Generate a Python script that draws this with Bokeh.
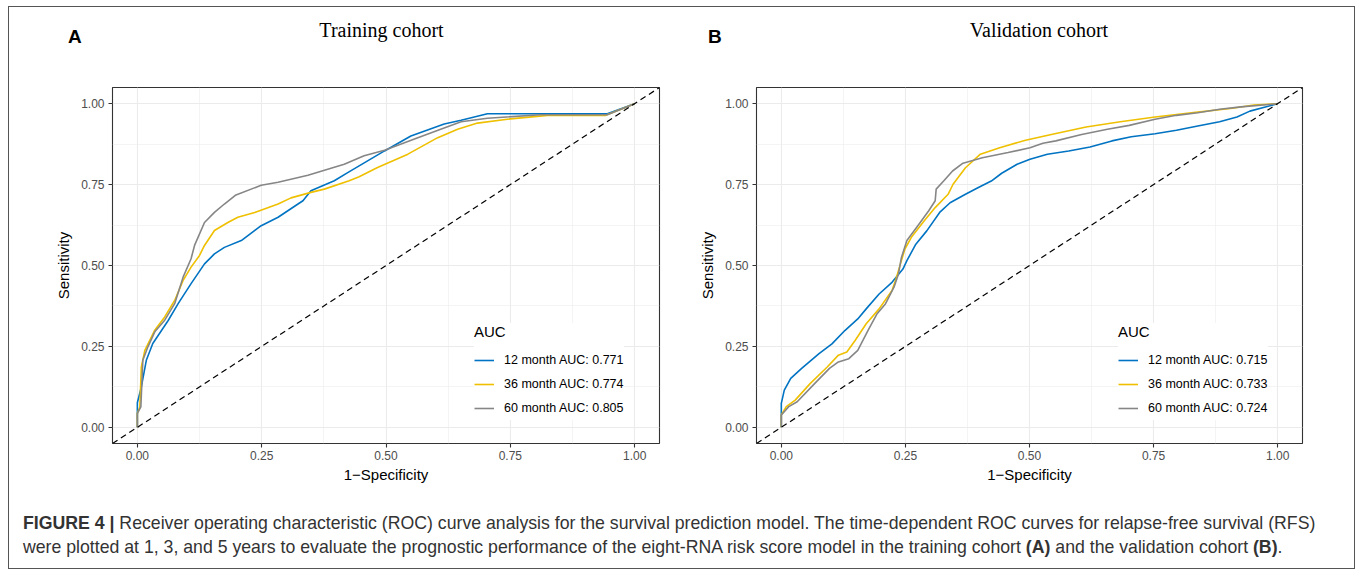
from bokeh.plotting import figure
from bokeh.models import Range1d, FixedTicker, Slope, Div
from bokeh.layouts import column, row
from bokeh.embed import file_html
from bokeh.resources import INLINE

# ---------------- data ----------------
tick_values = [0.0, 0.25, 0.5, 0.75, 1.0]
tick_labels = ["0.00", "0.25", "0.50", "0.75", "1.00"]
minor_values = [0.125, 0.375, 0.625, 0.875]

series_names = ["12 month", "36 month", "60 month"]
auc_train = [0.771, 0.774, 0.805]
auc_valid = [0.715, 0.733, 0.724]
colors = ["#0073C2", "#EFC000", "#868686"]

panel_titles = ["Training cohort", "Validation cohort"]
panel_letters = ["A", "B"]
x_label = "1\u2212Specificity"
y_label = "Sensitivity"
legend_title = "AUC"

# Training cohort
train_12_fpr = [0, 0, 0.008, 0.018, 0.031, 0.062, 0.082, 0.108, 0.135, 0.155, 0.175, 0.209, 0.249, 0.283,
                0.323, 0.333, 0.349, 0.396, 0.423, 0.497, 0.550, 0.617, 0.651, 0.704, 0.945, 1.0]
train_12_tpr = [0, 0.076, 0.125, 0.207, 0.259, 0.33, 0.382, 0.444, 0.505, 0.536, 0.556, 0.577, 0.623, 0.649,
                0.69, 0.70, 0.731, 0.762, 0.787, 0.854, 0.9, 0.937, 0.949, 0.969, 0.969, 1.0]
train_36_fpr = [0, 0, 0.005, 0.008, 0.015, 0.035, 0.055, 0.075, 0.092, 0.108, 0.125, 0.135, 0.155, 0.182,
                0.202, 0.236, 0.283, 0.309, 0.349, 0.376, 0.426, 0.446, 0.483, 0.544, 0.604, 0.644, 0.684,
                0.744, 0.825, 0.942, 1.0]
train_36_tpr = [0, 0.043, 0.063, 0.187, 0.238, 0.30, 0.341, 0.392, 0.454, 0.495, 0.531, 0.562, 0.608, 0.633,
                0.649, 0.664, 0.69, 0.709, 0.726, 0.736, 0.762, 0.774, 0.803, 0.844, 0.895, 0.921, 0.94,
                0.952, 0.964, 0.964, 1.0]
train_60_fpr = [0, 0, 0.007, 0.011, 0.021, 0.035, 0.055, 0.075, 0.092, 0.108, 0.115, 0.135, 0.155, 0.175,
                0.197, 0.249, 0.283, 0.343, 0.416, 0.456, 0.497, 0.564, 0.610, 0.651, 0.704, 0.811, 0.945, 1.0]
train_60_tpr = [0, 0.043, 0.063, 0.207, 0.248, 0.295, 0.331, 0.382, 0.464, 0.521, 0.562, 0.633, 0.664, 0.69,
                0.717, 0.748, 0.757, 0.779, 0.813, 0.839, 0.856, 0.895, 0.921, 0.944, 0.955, 0.966, 0.966, 1.0]

# Validation cohort
valid_12_fpr = [0, 0, 0.006, 0.019, 0.041, 0.076, 0.102, 0.128, 0.154, 0.171, 0.197, 0.223, 0.245, 0.253,
                0.271, 0.293, 0.319, 0.340, 0.371, 0.397, 0.423, 0.444, 0.475, 0.501, 0.536, 0.579, 0.622,
                0.666, 0.705, 0.753, 0.796, 0.839, 0.883, 0.918, 0.944, 1.0]
valid_12_tpr = [0, 0.074, 0.115, 0.151, 0.182, 0.228, 0.258, 0.299, 0.335, 0.366, 0.412, 0.448, 0.489, 0.515,
                0.566, 0.607, 0.664, 0.694, 0.72, 0.741, 0.761, 0.785, 0.813, 0.828, 0.844, 0.854, 0.866,
                0.885, 0.898, 0.907, 0.918, 0.931, 0.944, 0.959, 0.977, 1.0]
valid_36_fpr = [0, 0, 0.01, 0.028, 0.058, 0.093, 0.115, 0.132, 0.149, 0.171, 0.197, 0.223, 0.231, 0.240,
                0.249, 0.262, 0.288, 0.31, 0.336, 0.346, 0.371, 0.401, 0.44, 0.492, 0.544, 0.614, 0.683,
                0.753, 0.839, 0.909, 0.952, 1.0]
valid_36_tpr = [0, 0.038, 0.064, 0.084, 0.135, 0.187, 0.223, 0.233, 0.269, 0.32, 0.366, 0.423, 0.458, 0.505,
                0.551, 0.587, 0.638, 0.679, 0.72, 0.751, 0.802, 0.844, 0.864, 0.887, 0.905, 0.928, 0.944,
                0.959, 0.974, 0.986, 0.996, 1.0]
valid_60_fpr = [0, 0, 0.015, 0.032, 0.067, 0.097, 0.115, 0.136, 0.154, 0.175, 0.193, 0.21, 0.227, 0.236,
                0.242, 0.253, 0.275, 0.297, 0.31, 0.312, 0.327, 0.345, 0.366, 0.405, 0.457, 0.501, 0.527,
                0.553, 0.605, 0.657, 0.701, 0.753, 0.796, 0.839, 0.883, 0.926, 1.0]
valid_60_tpr = [0, 0.038, 0.064, 0.079, 0.135, 0.182, 0.202, 0.212, 0.238, 0.3, 0.351, 0.382, 0.433, 0.474,
                0.525, 0.577, 0.623, 0.669, 0.7, 0.736, 0.761, 0.792, 0.816, 0.833, 0.849, 0.864, 0.878,
                0.885, 0.905, 0.921, 0.933, 0.952, 0.964, 0.972, 0.983, 0.99, 1.0]

caption_line1 = ("Receiver operating characteristic (ROC) curve analysis for the survival prediction model. "
                 "The time-dependent ROC curves for relapse-free survival (RFS)")
caption_line2 = ("were plotted at 1, 3, and 5 years to evaluate the prognostic performance of the eight-RNA "
                 "risk score model in the training cohort")

SANS = "Liberation Sans"


def make_panel(fprs, tprs, aucs, width, left, right):
    p = figure(width=width, height=408, output_backend="svg", toolbar_location=None,
               x_range=Range1d(-0.05, 1.05), y_range=Range1d(-0.05, 1.05),
               min_border_left=left, min_border_right=right, min_border_top=0, min_border_bottom=52,
               background_fill_color="white", border_fill_color="white",
               outline_line_color="#333333", outline_line_width=1.1)
    ticker = FixedTicker(ticks=tick_values, minor_ticks=minor_values)
    for ax in (p.xaxis[0], p.yaxis[0]):
        ax.ticker = ticker
        ax.major_label_overrides = dict(zip(tick_values, tick_labels))
        ax.axis_line_color = None
        ax.major_tick_line_color = "#333333"
        ax.major_tick_line_width = 1.1
        ax.major_tick_in = 0
        ax.major_tick_out = 4
        ax.minor_tick_line_color = None
        ax.major_label_text_font = SANS
        ax.major_label_text_font_size = "12px"
        ax.major_label_text_color = "#4D4D4D"
        ax.axis_label_text_font = SANS
        ax.axis_label_text_font_size = "15px"
        ax.axis_label_text_font_style = "normal"
        ax.axis_label_text_color = "#000000"
    p.xaxis.axis_label = x_label
    p.yaxis.axis_label = y_label
    p.xaxis.major_label_standoff = 3
    p.xaxis.axis_label_standoff = 3
    p.yaxis.major_label_standoff = 4
    p.yaxis.axis_label_standoff = 6

    p.grid.grid_line_color = "#EBEBEB"
    p.grid.grid_line_width = 1.1
    p.grid.minor_grid_line_color = "#EBEBEB"
    p.grid.minor_grid_line_width = 0.55

    for xs, ys, name, auc, col in zip(fprs, tprs, series_names, aucs, colors):
        p.line(xs, ys, line_color=col, line_width=1.6,
               legend_label=f"{name} AUC: {auc:.3f}")

    p.add_layout(Slope(gradient=1, y_intercept=0, line_color="black", line_width=1.2,
                       line_dash="6 4"))

    lg = p.legend[0]
    lg.title = legend_title
    lg.title_text_font = SANS
    lg.title_text_font_size = "15px"
    lg.title_text_font_style = "normal"
    lg.title_text_color = "#000000"
    lg.title_standoff = 8
    lg.label_text_font = SANS
    lg.label_text_font_size = "12.5px"
    lg.label_text_color = "#000000"
    lg.glyph_width = 20
    lg.glyph_height = 24
    lg.label_height = 24
    lg.spacing = 0
    lg.padding = 10
    lg.margin = 0
    lg.label_standoff = 10
    lg.border_line_color = None
    lg.background_fill_color = "white"
    lg.background_fill_alpha = 1.0
    lg.location = (362, 23)
    return p


pA = make_panel([train_12_fpr, train_36_fpr, train_60_fpr],
                [train_12_tpr, train_36_tpr, train_60_tpr],
                auc_train, width=672, left=103, right=22)
pB = make_panel([valid_12_fpr, valid_36_fpr, valid_60_fpr],
                [valid_12_tpr, valid_36_tpr, valid_60_tpr],
                auc_valid, width=673, left=75, right=52)


def letter_span(text, left):
    return (f'<span style="position:absolute;left:{left}px;top:19.5px;font-family:\'Liberation Sans\',Arial,sans-serif;'
            f'font-weight:bold;font-size:19px;line-height:19px;color:#000000;">{text}</span>')


def title_span(text, center):
    return (f'<span style="position:absolute;left:{center}px;top:13px;transform:translateX(-50%);'
            f'font-family:\'Liberation Serif\',\'Times New Roman\',serif;font-size:20px;line-height:20px;'
            f'white-space:nowrap;color:#000000;">{text}</span>')


header_html = ('<div style="position:relative;width:1345px;height:80px;">'
               + letter_span(panel_letters[0], 59) + title_span(panel_titles[0], 372.5)
               + letter_span(panel_letters[1], 699) + title_span(panel_titles[1], 1030)
               + '</div>')
header = Div(text=header_html, width=1345, height=80, margin=0)

caption_html = (
    '<div style="font-family:\'Liberation Sans\',Arial,sans-serif;'
    'font-size:17.7px;line-height:24.5px;color:#333333;white-space:nowrap;'
    'padding-left:14px;padding-top:15.5px;">'
    f'<b>FIGURE 4 |</b> {caption_line1}<br>'
    f'{caption_line2} <b>(A)</b> and the validation cohort <b>(B)</b>.'
    '</div>'
)
cap = Div(text=caption_html, width=1345, height=73, margin=0)

inner = column(header, row(pA, pB), cap, styles={"border": "1px solid #555555"})
layout = column(inner, styles={"padding-left": "8px", "padding-top": "6px"})

open("out.html", "w").write(file_html(layout, INLINE))
